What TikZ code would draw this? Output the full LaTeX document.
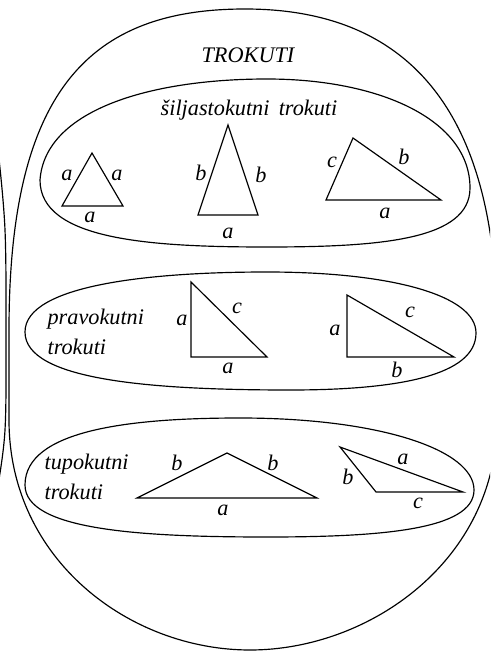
\documentclass[tikz,border=0pt]{standalone}
\usepackage{fontspec}
\setmainfont{Liberation Serif}
\begin{document}
\begin{tikzpicture}[x=0.03cm,y=-0.03cm,line width=1pt,
    lbl/.style={font=\itshape\fontsize{19}{21}\selectfont,inner sep=0pt},
    grp/.style={font=\itshape\fontsize{19}{25}\selectfont,align=left,inner sep=0pt,anchor=west}]
    \useasboundingbox (0,0) rectangle (490,651);
    \clip (0,0) rectangle (490,651);
    % outer set and the cut-off neighbour
    \draw (245,9) .. controls (90,9) and (9,90) .. (9,330) -- (9,420) .. controls (9,560) and (130,650) .. (250,650)
        .. controls (370,650) and (497,560) .. (497,420) -- (497,330) .. controls (497,95) and (395,9) .. (245,9);
    \draw plot[smooth,tension=0.6] coordinates {(-2,150) (5,230) (6,340) (5,430) (-2,485)};
    \node[lbl] (trokuti) at (248,55) {TROKUTI};
    % siljastokutni
    \draw (40,180) .. controls (45,110) and (150,79) .. (267,79) .. controls (380,79) and (470,120) .. (470,188)
        .. controls (470,240) and (380,247) .. (267,247) .. controls (150,247) and (40,240) .. (40,180);
    \node[lbl] (silj) at (249,110) {šiljastokutni\, trokuti};
    \draw (92,153) coordinate (e1) -- (62,206) coordinate (e2) -- (123,206) coordinate (e3) -- cycle;
    \node[lbl] (e12) at (67,175) {a};
    \node[lbl] (e13) at (117,175) {a};
    \node[lbl] (e23) at (90,217) {a};
    \draw (228,125) coordinate (i1) -- (198,215) coordinate (i2) -- (258,215) coordinate (i3) -- cycle;
    \node[lbl] (i12) at (201,173) {b};
    \node[lbl] (i13) at (261,175) {b};
    \node[lbl] (i23) at (228,233) {a};
    \draw (353,138) coordinate (s1) -- (326,200) coordinate (s2) -- (441,200) coordinate (s3) -- cycle;
    \node[lbl] (s12) at (332,162) {c};
    \node[lbl] (s13) at (404,157) {b};
    \node[lbl] (s23) at (385,213) {a};
    % pravokutni
    \draw (25,332) .. controls (25,285) and (150,272) .. (267,272) .. controls (390,272) and (476,295) .. (476,333)
        .. controls (476,375) and (400,390) .. (290,390) .. controls (150,390) and (25,380) .. (25,332);
    \node[grp] (prav) at (47,332) {pravokutni\\trokuti};
    \draw (191,282) coordinate (p1) -- (191,357) coordinate (p2) -- (267,357) coordinate (p3) -- cycle;
    \node[lbl] (p12) at (182,320) {a};
    \node[lbl] (p13) at (237,308) {c};
    \node[lbl] (p23) at (228,368) {a};
    \draw (347,295) coordinate (q1) -- (347,357) coordinate (q2) -- (454,357) coordinate (q3) -- cycle;
    \node[lbl] (q12) at (335,330) {a};
    \node[lbl] (q13) at (410,312) {c};
    \node[lbl] (q23) at (397,370) {b};
    % tupokutni
    \draw (25,485) .. controls (25,430) and (130,418) .. (240,418) .. controls (380,418) and (474,450) .. (474,490)
        .. controls (474,530) and (380,537) .. (267,537) .. controls (140,537) and (25,530) .. (25,485);
    \node[grp] (tup) at (44,477) {tupokutni\\trokuti};
    \draw (137,498) coordinate (t1) -- (227,453) coordinate (t2) -- (317,498) coordinate (t3) -- cycle;
    \node[lbl] (t12) at (177,463) {b};
    \node[lbl] (t23) at (273,463) {b};
    \node[lbl] (t13) at (223,510) {a};
    \draw (340,447) coordinate (u1) -- (376,492) coordinate (u2) -- (463,492) coordinate (u3) -- cycle;
    \node[lbl] (u12) at (348,477) {b};
    \node[lbl] (u13) at (403,459) {a};
    \node[lbl] (u23) at (418,503) {c};
\end{tikzpicture}
\end{document}
